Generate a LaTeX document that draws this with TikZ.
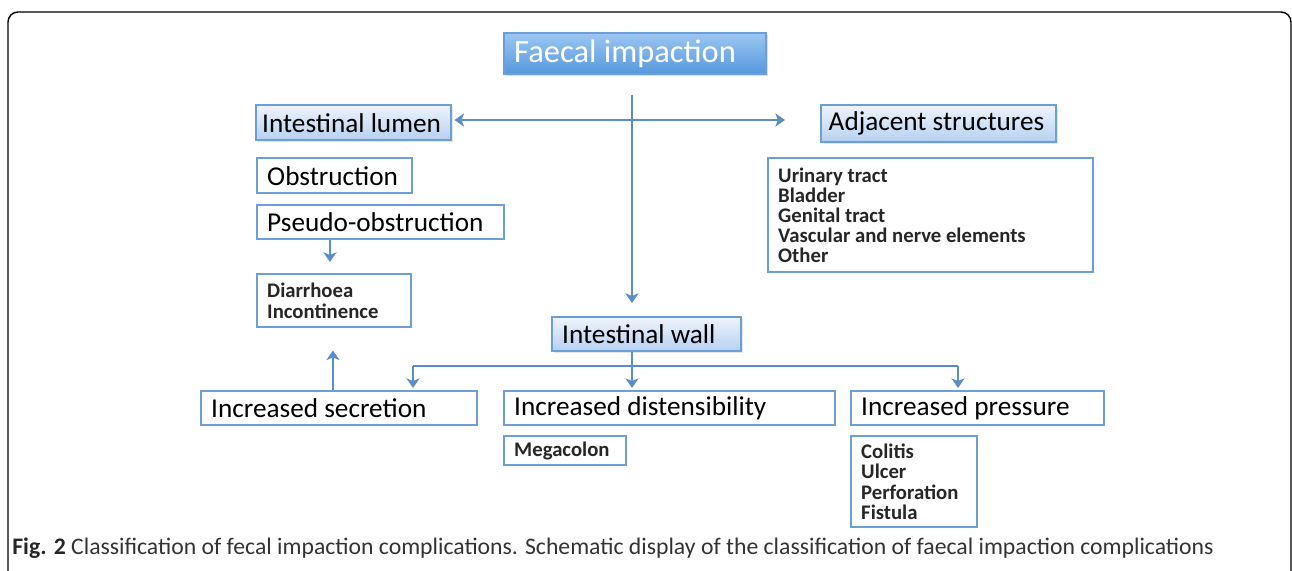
\documentclass[tikz,border=0pt]{standalone}
\usepackage{fontspec}
\setmainfont{Carlito}
\usetikzlibrary{arrows,arrows.meta,shapes,positioning,shadows}
\definecolor{boxblue}{HTML}{6C9ED8}
\definecolor{arrowblue}{HTML}{5B8DC9}
\definecolor{headtop}{HTML}{9CC6F2}
\definecolor{headbot}{HTML}{5598DE}
\definecolor{lighttop}{HTML}{EEF4FC}
\definecolor{lightbot}{HTML}{B5D0F1}
\definecolor{captiongray}{HTML}{333333}
\tikzset{
  basebox/.style={draw=boxblue, line width=1.4pt, anchor=north west, align=flush left, inner xsep=0.2cm, inner ysep=0pt},
  headbox/.style={basebox, top color=headtop, bottom color=headbot, text=white,
    font=\fontsize{18.5}{22}\selectfont, drop shadow={opacity=0.25, shadow xshift=0.04cm, shadow yshift=-0.04cm}},
  lightbox/.style={basebox, top color=lighttop, bottom color=lightbot,
    font=\fontsize{15.5}{19}\selectfont, drop shadow={opacity=0.2, shadow xshift=0.04cm, shadow yshift=-0.04cm}},
  plainbox/.style={basebox, fill=white, font=\fontsize{15.5}{19}\selectfont},
  listbox/.style={basebox, fill=white, text=black!85, font=\bfseries\fontsize{11.8}{11.5}\selectfont},
  link/.style={draw=arrowblue, line width=1.5pt}
}
\begin{document}
\begin{tikzpicture}[x=0.02cm,y=-0.02cm,>={Stealth[length=5.5pt,width=7.5pt,inset=1.5pt]}]
\useasboundingbox (0,0) rectangle (1292,571);
\clip (0,0) rectangle (1292,571);
% outer frame
\draw[rounded corners=0.2cm, line width=0.8pt] (8,12) rectangle (1291,620);

% top level
\node[headbox, text width=4.84cm, minimum height=0.82cm] (faecal) at (503,32) {Faecal impaction};
\node[lightbox, inner xsep=0.12cm, text width=3.66cm, minimum height=0.70cm] (lumen) at (255,104) {Intestinal lumen};
\node[lightbox, inner xsep=0.15cm, text width=4.40cm, minimum height=0.74cm] (adjacent) at (820,104) {Adjacent structures};
\node[lightbox, text width=3.38cm, minimum height=0.68cm] (wall) at (551,316) {Intestinal wall};

% lumen side
\node[plainbox, text width=2.70cm, minimum height=0.70cm] (obstruction) at (256,157) {Obstruction};
\node[plainbox, text width=4.54cm, minimum height=0.68cm] (pseudo) at (256,204) {Pseudo-obstruction};
\node[listbox, text width=2.68cm, minimum height=1.06cm] (diarrhoea) at (256,273) {Diarrhoea\\Incontinence};

% adjacent side
\node[listbox, text width=6.10cm, minimum height=2.28cm] (adjlist) at (767,157)
  {Urinary tract\\Bladder\\Genital tract\\Vascular and nerve elements\\Other};

% wall side
\node[plainbox, text width=5.12cm, minimum height=0.68cm] (secretion) at (200,390) {Increased secretion};
\node[plainbox, text width=6.22cm, minimum height=0.68cm] (distens) at (503,390) {Increased distensibility};
\node[plainbox, text width=4.66cm, minimum height=0.68cm] (pressure) at (850,390) {Increased pressure};
\node[listbox, text width=2.04cm, minimum height=0.58cm] (megacolon) at (503,435) {Megacolon};
\node[listbox, text width=2.12cm, minimum height=1.82cm] (colitis) at (850,435) {Colitis\\Ulcer\\Perforation\\Fistula};

% connectors
\coordinate (trunk) at (632,95);
\coordinate (split) at (632,366);
\coordinate (bus l) at (413,366);
\coordinate (bus r) at (958,366);
\draw[link,<->,shorten <=0.04cm,shorten >=0.7cm] (lumen.east |- 0,120) -- (adjacent.west |- 0,120);
\draw[link,->,shorten >=0.26cm] (trunk) -- (trunk |- wall.north);
\draw[link,->,shorten >=0.22cm] ([xshift=1.48cm]pseudo.south west) -- ([xshift=1.48cm]pseudo.south west |- diarrhoea.north);
\draw[link,->,shorten >=0.44cm] ([xshift=2.66cm]secretion.north west) -- ([xshift=2.66cm]secretion.north west |- diarrhoea.south);
\draw[link,->,shorten >=0.04cm] (split |- wall.south) -- (split |- distens.north);
\draw[link] (bus l) -- (bus r);
\draw[link,->,shorten >=0.04cm] (bus l) -- (bus l |- secretion.north);
\draw[link,->,shorten >=0.04cm] (bus r) -- (bus r |- pressure.north);

% caption
\node[anchor=west, inner sep=0pt, text=captiongray, font=\fontsize{13.5}{16}\selectfont] (caption) at (12,548)
  {{\bfseries\color{black!85}Fig. 2} Classification of fecal impaction complications. Schematic display of the classification of faecal impaction complications};
\end{tikzpicture}
\end{document}
